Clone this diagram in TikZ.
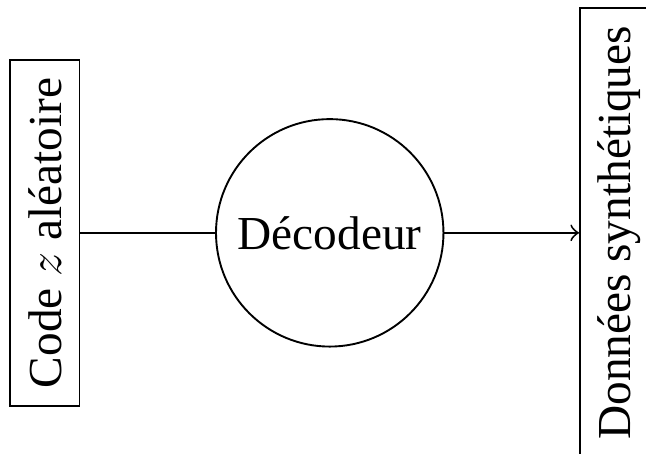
\documentclass[tikz,border=0pt]{standalone}
\usepackage{fontspec}
\setmainfont{Liberation Serif}
\usetikzlibrary{positioning}

\begin{document}
\begin{tikzpicture}[thin, >=to]

    %========================
    % Styles
    %========================
    \tikzset{
        blockbox/.style={draw, rotate=90, inner sep=0.38em},
        decnode/.style={draw, circle, minimum size=1.69cm, inner sep=0pt}
    }

    % Frame (picture is cut at the right and bottom)
    \useasboundingbox (-2.45,-1.64) rectangle (2.35,1.73);

    % Decoder
    \node[decnode] (dec) at (0,0) {Décodeur};

    % Input code
    \node[blockbox, left=1cm of dec, anchor=south] (code) {Code $z$ aléatoire};

    % Output data
    \node[blockbox, right=1cm of dec, anchor=north] (data) {Données synthétiques};

    % Connectors
    \draw (code) -- (dec);
    \draw[->] (dec) -- (data);

\end{tikzpicture}
\end{document}
